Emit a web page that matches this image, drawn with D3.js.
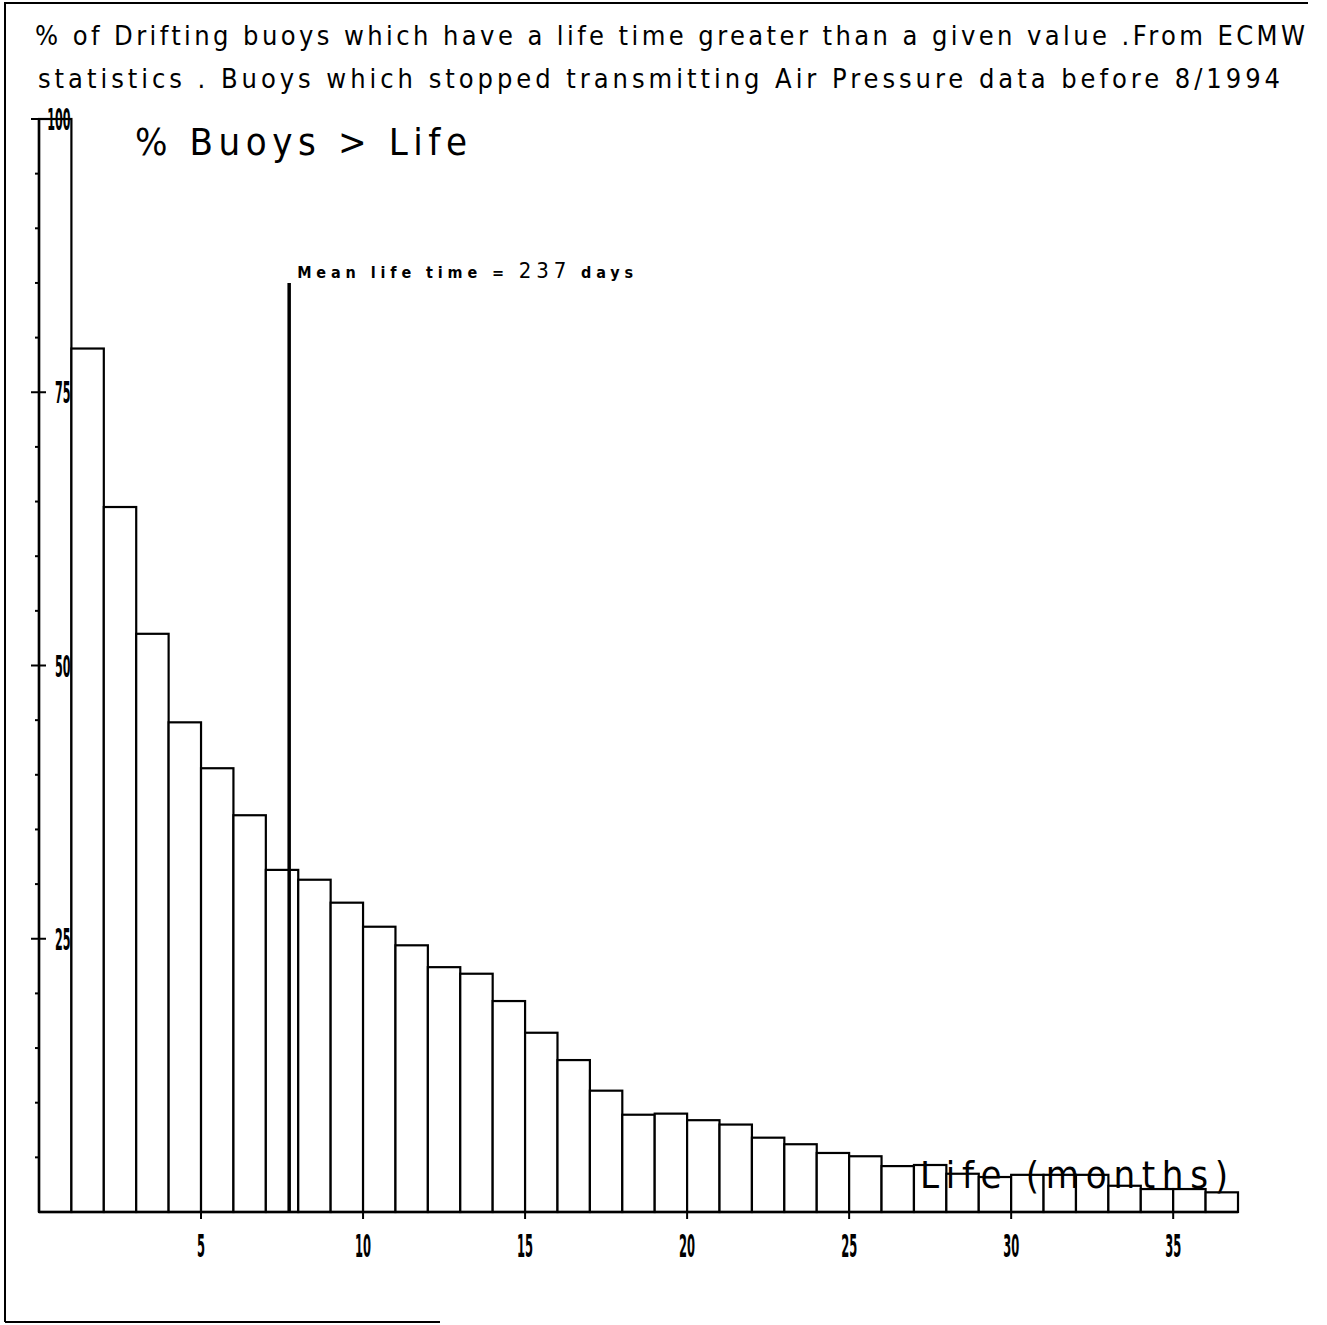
<!DOCTYPE html>
<html>
<head>
<meta charset="utf-8">
<script src="https://cdn.jsdelivr.net/npm/d3@7"></script>
<style>
  html, body { margin: 0; padding: 0; background: #fff; }
  svg { display: block; }
  text { font-family: "DejaVu Sans Condensed", "DejaVu Sans", sans-serif; fill: #000; }
</style>
</head>
<body>
<svg id="chart" width="1327" height="1325"></svg>
<script>
// ---- data ----
const months = d3.range(1, 38);               // 37 monthly bins
const percentAlive = [
  100, 79.0, 64.5, 52.9, 44.8, 40.6, 36.3, 31.3, 30.4, 28.3,
  26.1, 24.4, 22.4, 21.8, 19.3, 16.4, 13.9, 11.1, 8.9, 9.0,
  8.4, 8.0, 6.8, 6.2, 5.4, 5.1, 4.2, 4.3, 3.5, 3.2,
  3.4, 3.4, 3.4, 2.4, 2.1, 2.1, 1.8
];
const yTickValues = d3.range(0, 101, 5);
const yMajorTicks = [25, 50, 75, 100];
const xTickValues = [5, 10, 15, 20, 25, 30, 35];
const meanLifeDays = 237;
const meanLifeMonths = 7.72;
const titleLine1 = "% of Drifting buoys which have a life time greater than a given value .From ECMW";
const titleLine2 = "statistics . Buoys which stopped transmitting Air Pressure data before  8/1994";
const yTitle = "% Buoys > Life";
const xTitle = "Life (months)";

// ---- drawing ----
const svg = d3.select("#chart");
const x = d3.scaleLinear().domain([0, 37]).range([39, 1238]);
const y = d3.scaleLinear().domain([0, 100]).range([1212, 119]);

// outer frame (partial, as on the plot)
svg.append("path")
  .attr("d", "M5,1322 L5,3 L1308,3")
  .attr("fill", "none").attr("stroke", "#000").attr("stroke-width", 2);
svg.append("line")
  .attr("x1", 5).attr("x2", 440).attr("y1", 1322).attr("y2", 1322)
  .attr("stroke", "#000").attr("stroke-width", 2);

// titles
svg.append("text").attr("x", 35).attr("y", 45)
  .attr("font-size", 27).attr("textLength", 1270).attr("lengthAdjust", "spacing")
  .text(titleLine1);
svg.append("text").attr("x", 38).attr("y", 88)
  .attr("font-size", 27).attr("textLength", 1242).attr("lengthAdjust", "spacing")
  .text(titleLine2);

// bars
svg.append("g").selectAll("rect")
  .data(percentAlive)
  .join("rect")
  .attr("x", (d, i) => x(months[i] - 1))
  .attr("width", (d, i) => x(months[i]) - x(months[i] - 1))
  .attr("y", d => y(d))
  .attr("height", d => y(0) - y(d))
  .attr("fill", "#fff")
  .attr("stroke", "#000")
  .attr("stroke-width", 2.2);

// y axis
const yAxis = svg.append("g");
yAxis.append("line")
  .attr("x1", x(0)).attr("x2", x(0)).attr("y1", y(0)).attr("y2", y(100))
  .attr("stroke", "#000").attr("stroke-width", 2.5);
yAxis.selectAll("line.tick")
  .data(yTickValues.filter(v => v > 0))
  .join("line").attr("class", "tick")
  .attr("x1", v => yMajorTicks.includes(v) ? x(0) - 8 : x(0) - 4)
  .attr("x2", v => yMajorTicks.includes(v) ? x(0) + 7 : x(0))
  .attr("y1", v => y(v)).attr("y2", v => y(v))
  .attr("stroke", "#000").attr("stroke-width", 2);
yAxis.selectAll("g.lab")
  .data(yMajorTicks)
  .join("g").attr("class", "lab")
  .attr("transform", v => `translate(${x(1) - 1},${y(v)}) scale(0.4,1)`)
  .append("text")
  .attr("text-anchor", "end").attr("dy", "0.36em")
  .attr("font-size", 31).attr("font-weight", "bold")
  .text(v => v);

// x axis
const xAxis = svg.append("g");
xAxis.append("line")
  .attr("x1", x(0)).attr("x2", x(37)).attr("y1", y(0)).attr("y2", y(0))
  .attr("stroke", "#000").attr("stroke-width", 2.5);
xAxis.selectAll("line.tick")
  .data(xTickValues)
  .join("line").attr("class", "tick")
  .attr("x1", v => x(v)).attr("x2", v => x(v))
  .attr("y1", y(0)).attr("y2", y(0) + 7)
  .attr("stroke", "#000").attr("stroke-width", 2);
xAxis.selectAll("g.lab")
  .data(xTickValues)
  .join("g").attr("class", "lab")
  .attr("transform", v => `translate(${x(v)},1257) scale(0.4,1)`)
  .append("text")
  .attr("text-anchor", "middle")
  .attr("font-size", 32).attr("font-weight", "bold")
  .text(v => v);

// mean life line
svg.append("line")
  .attr("x1", x(meanLifeMonths)).attr("x2", x(meanLifeMonths))
  .attr("y1", 283).attr("y2", y(0))
  .attr("stroke", "#000").attr("stroke-width", 3.5);
const meanText = svg.append("text").attr("x", x(meanLifeMonths) + 8).attr("y", 278)
  .attr("font-size", 16).attr("font-weight", "bold")
  .attr("textLength", 336).attr("lengthAdjust", "spacing");
meanText.append("tspan").text("Mean life time =  ");
meanText.append("tspan").attr("font-size", 22).attr("font-weight", "normal").text(meanLifeDays);
meanText.append("tspan").text(" days");

// axis titles
svg.append("text").attr("x", 135).attr("y", 155)
  .attr("font-size", 38).attr("textLength", 332).attr("lengthAdjust", "spacing")
  .text(yTitle);
svg.append("text").attr("x", 920).attr("y", 1188)
  .attr("font-size", 38).attr("textLength", 308).attr("lengthAdjust", "spacing")
  .text(xTitle);
</script>
</body>
</html>
